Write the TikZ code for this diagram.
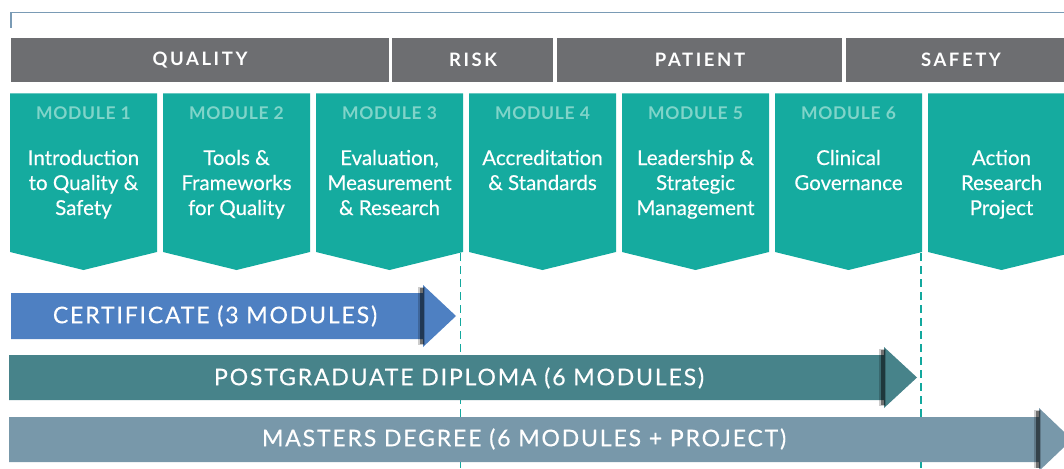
\documentclass[tikz,border=0pt]{standalone}
\usepackage{fontspec}
\setmainfont{Lato}
\definecolor{topline}{HTML}{7A9BB5}
\definecolor{hdrgray}{HTML}{6D6E71}
\definecolor{modteal}{HTML}{15AB9F}
\definecolor{modlab}{HTML}{80D4C9}
\definecolor{certblue}{HTML}{4E80C2}
\definecolor{pgdteal}{HTML}{47838A}
\definecolor{mstgray}{HTML}{7898AA}
\definecolor{dashteal}{HTML}{13A89E}
\tikzset{
  hdrbox/.style={fill=hdrgray, draw=none},
  hdrtext/.style={text=white, font=\fontsize{18.5}{22}\selectfont\bfseries\addfontfeatures{LetterSpace=14}, inner sep=0pt},
  modshape/.style={fill=modteal, draw=none},
  modlabel/.style={text=modlab, font=\fontsize{17.5}{20}\selectfont\bfseries\addfontfeatures{LetterSpace=4}, inner sep=0pt, anchor=base},
  modtitle/.style={text=white, font=\fontsize{20.5}{25}\selectfont\addfontfeatures{FakeBold=0.3}, align=center, inner sep=0pt, anchor=base},
  divline/.style={draw=dashteal, line width=1.6pt, dash pattern=on 8pt off 5pt},
  bartext/.style={text=white, font=\fontsize{23}{26}\selectfont\addfontfeatures{LetterSpace=8,FakeBold=0.4}, inner sep=0pt},
  shadowband/.style={fill=black, opacity=0.45},
}
\begin{document}
\begin{tikzpicture}[x=1pt,y=-1pt]
\useasboundingbox (0,0) rectangle (1064,468);
\begin{scope}
\clip (0,0) rectangle (1064,468);
% top bracket line
\coordinate (tl0) at (11,28);
\coordinate (tl1) at (11,12.5);
\coordinate (tl2) at (1064,12.5);
\draw[topline, line width=1.6pt] (tl0) -- (tl1) -- (tl2);
% header bar
\fill[hdrbox] (11,38) rectangle (388.5,82.5);
\fill[hdrbox] (392,38) rectangle (553,82.5);
\fill[hdrbox] (557,38) rectangle (842,82.5);
\fill[hdrbox] (846,38) rectangle (1070,82.5);
\node[hdrtext] (hq) at (200,60) {QUALITY};
\node[hdrtext] (hr) at (473,60) {RISK};
\node[hdrtext] (hp) at (700,60) {PATIENT};
\node[hdrtext] (hs) at (961,60) {SAFETY};
% modules
\foreach \i/\n/\lab/\txt in {
  0/3/MODULE 1/{Introduction\\to Quality \&\\Safety},
  1/3/MODULE 2/{Tools \&\\Frameworks\\for Quality},
  2/3/MODULE 3/{Evaluation,\\Measurement\\\& Research},
  3/2/MODULE 4/{Accreditation\\\& Standards},
  4/3/MODULE 5/{Leadership \&\\Strategic\\Management},
  5/2/MODULE 6/{Clinical\\Governance},
  6/3//{Action\\Research\\Project}} {
  \pgfmathsetmacro{\xl}{10+153*\i}
  \pgfmathsetmacro{\xr}{\xl+147}
  \pgfmathsetmacro{\xc}{\xl+73.5}
  \pgfmathsetmacro{\yb}{165+25*(\n-1)}
  \fill[modshape] (\xl,93.5) -- (\xr,93.5) -- (\xr,252) -- (\xc,270) -- (\xl,252) -- cycle;
  \node[modlabel] (ml\i) at (\xc,120) {\lab};
  \node[modtitle] (mt\i) at (\xc,\yb) {\txt};
}
% dashed dividers
\coordinate (d1a) at (460.5,253);
\coordinate (d1b) at (460.5,468);
\coordinate (d2a) at (921,253);
\coordinate (d2b) at (921,468);
\draw[divline] (d1a) -- (d1b);
\draw[divline] (d2a) -- (d2b);
% certificate arrow
\fill[certblue] (11,293) -- (423,293) -- (423,285) -- (456,316) -- (423,347) -- (423,339) -- (11,339) -- cycle;
\fill[shadowband] (419.5,288) rectangle (423.5,344);
\fill[black,opacity=0.2] (418,287) rectangle (425,345);
\node[bartext] (cert) at (215,316) {CERTIFICATE (3 MODULES)};
% postgraduate arrow
\fill[pgdteal] (9,355) -- (884,355) -- (884,347) -- (917,377.5) -- (884,408) -- (884,400) -- (9,400) -- cycle;
\fill[shadowband] (880.5,350) rectangle (884.5,405);
\fill[black,opacity=0.2] (879,349) rectangle (886,406);
\node[bartext] (pgd) at (459,378) {POSTGRADUATE DIPLOMA (6 MODULES)};
% masters arrow
\fill[mstgray] (9,417) -- (1039,417) -- (1039,408) -- (1072,439.5) -- (1039,471) -- (1039,462) -- (9,462) -- cycle;
\fill[shadowband] (1035.5,411) rectangle (1039.5,468);
\fill[black,opacity=0.2] (1034,410) rectangle (1041,468);
\node[bartext] (mst) at (524,439) {MASTERS DEGREE (6 MODULES + PROJECT)};
\end{scope}
\end{tikzpicture}
\end{document}
